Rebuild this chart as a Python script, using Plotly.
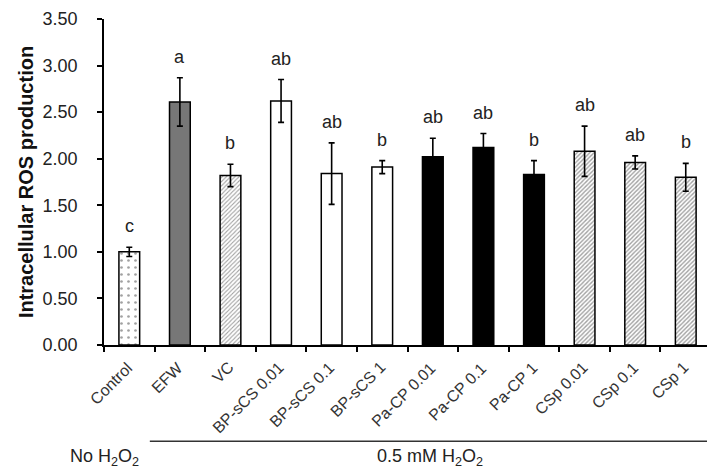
import plotly.graph_objects as go

categories = ["Control", "EFW", "VC", "BP-sCS 0.01", "BP-sCS 0.1", "BP-sCS 1",
              "Pa-CP 0.01", "Pa-CP 0.1", "Pa-CP 1", "CSp 0.01", "CSp 0.1", "CSp 1"]
values = [1.00, 2.61, 1.82, 2.62, 1.84, 1.91, 2.02, 2.12, 1.83, 2.08, 1.96, 1.80]
errors = [0.05, 0.26, 0.12, 0.23, 0.33, 0.07, 0.20, 0.15, 0.15, 0.27, 0.07, 0.15]
letters = ["c", "a", "b", "ab", "ab", "b", "ab", "ab", "b", "ab", "ab", "b"]
y_ticks = [0, 0.5, 1.0, 1.5, 2.0, 2.5, 3.0, 3.5]

fill_colors = ["white", "#777777", "white", "white", "white", "white",
               "black", "black", "black", "white", "white", "white"]
pattern_shapes = [".", "", "/", "", "", "", "", "", "", "/", "/", "/"]
pattern_fg = ["#666666", "#777777", "#8a8a8a", "white", "white", "white",
              "black", "black", "black", "#555555", "#555555", "#555555"]
pattern_size = [7, 4, 3, 4, 4, 4, 4, 4, 4, 3, 3, 3]
pattern_sol = [0.12, 0.3, 0.35, 0.3, 0.3, 0.3, 0.3, 0.3, 0.3, 0.45, 0.45, 0.45]

FONT = "Liberation Sans, Arial"

fig = go.Figure()
fig.add_trace(go.Bar(
    x=categories, y=values, width=0.41,
    marker=dict(color=fill_colors, line=dict(color="black", width=1.5),
                pattern=dict(shape=pattern_shapes, fgcolor=pattern_fg,
                             size=pattern_size, solidity=pattern_sol)),
    error_y=dict(type="data", array=errors, visible=True, color="black",
                 thickness=1.6, width=3),
    showlegend=False,
))

for c, v, e, l in zip(categories, values, errors, letters):
    fig.add_annotation(x=c, y=v + e, text=l, showarrow=False, yanchor="bottom",
                       yshift=9, font=dict(size=18, color="#222222", family=FONT))

# rotated category labels
for c in categories:
    fig.add_annotation(x=c, y=0, text=c, showarrow=False, textangle=-45,
                       xanchor="right", yanchor="top", xshift=9, yshift=-11,
                       font=dict(size=16, color="#333333", family=FONT))

fig.add_annotation(xref="paper", yref="paper", x=0.0, y=-0.344, text="No H<sub>2</sub>O<sub>2</sub>",
                   showarrow=False, xanchor="center", yanchor="middle",
                   font=dict(size=18, color="#222222", family=FONT))
fig.add_annotation(xref="paper", yref="paper", x=0.54, y=-0.344, text="0.5 mM H<sub>2</sub>O<sub>2</sub>",
                   showarrow=False, xanchor="center", yanchor="middle",
                   font=dict(size=18, color="#222222", family=FONT))
fig.add_shape(type="line", xref="paper", yref="paper", x0=0.076, x1=1.0,
              y0=-0.295, y1=-0.295, line=dict(color="#333333", width=1.5))

fig.update_layout(
    width=707, height=474,
    margin=dict(l=104, r=0, t=19, b=129),
    plot_bgcolor="white", paper_bgcolor="white",
    font=dict(family=FONT, color="#222222"),
    xaxis=dict(range=[-0.5, 11.42], showline=True, linecolor="black", linewidth=1.5,
               ticks="outside", tickson="boundaries", ticklen=5, tickwidth=1.5,
               tickcolor="black", showticklabels=False),
    yaxis=dict(range=[0, 3.5], tickvals=y_ticks, tickformat=".2f", showline=True,
               linecolor="black", linewidth=1.5, ticks="outside", ticklen=5, tickwidth=1.5,
               tickcolor="black", showgrid=False, zeroline=False, ticklabelstandoff=16,
               tickfont=dict(size=18, color="#222222"),
               title=dict(text="<b>Intracellular ROS production</b>",
                          font=dict(size=20, color="#111111"), standoff=4)),
)

fig.write_html("out.html")
